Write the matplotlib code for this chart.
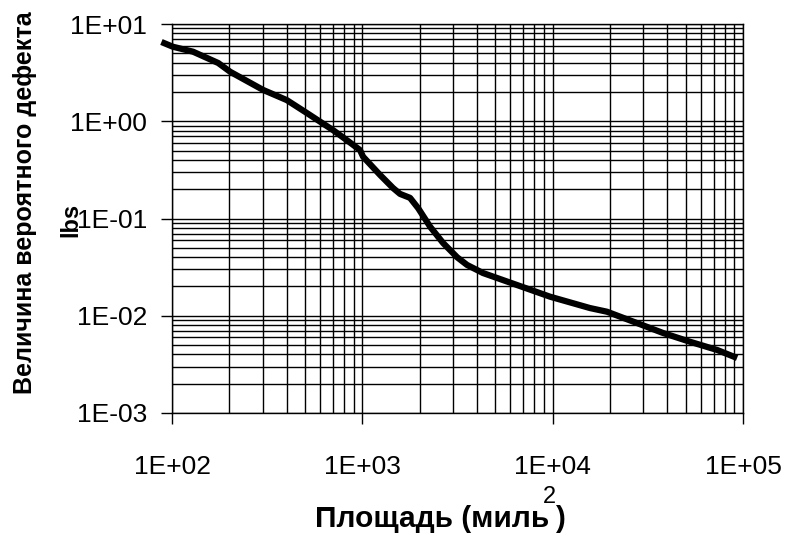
import matplotlib
matplotlib.use('Agg')
import matplotlib.pyplot as plt
from matplotlib.ticker import LogLocator, FuncFormatter, NullFormatter

plt.rcParams['font.family'] = ['Liberation Sans', 'DejaVu Sans']

# площадь (миль^2) и величина вероятного дефекта (lbs)
area = [88, 101, 129, 175, 202, 301, 401, 500, 600, 702, 828, 972, 1009, 1240,
        1449, 1578, 1781, 1963, 2270, 2656, 3145, 3550, 4305, 6497, 9690,
        15700, 19300, 27800, 38000, 52700, 73100, 93100]
defect = [6.53, 5.84, 5.19, 3.97, 3.23, 2.10, 1.65, 1.25, 0.99, 0.81, 0.64,
          0.506, 0.432, 0.28, 0.206, 0.179, 0.163, 0.128, 0.0824, 0.056,
          0.040, 0.0333, 0.0275, 0.0207, 0.0157, 0.0120, 0.0110, 0.0084,
          0.00665, 0.0054, 0.00445, 0.00368]

xlabel = 'Площадь (миль'
xlabel_sup = '2'
ylabel = 'Величина вероятного дефекта'
unit = 'lbs'

W, H = 789, 537
fig = plt.figure(figsize=(W/100, H/100), dpi=100)
ax = fig.add_axes([172/W, 1-413/H, (743-172)/W, (413-24)/H])

ax.plot(area, defect, color='black', lw=4.5, clip_on=False, zorder=5,
        solid_capstyle='butt', solid_joinstyle='round')

ax.set_xscale('log')
ax.set_yscale('log')
ax.set_xlim(1e2, 1e5)
ax.set_ylim(1e-3, 1e1)

fmt = FuncFormatter(lambda v, p: f'{v:.0E}')
for a in (ax.xaxis, ax.yaxis):
    a.set_major_locator(LogLocator(base=10, numticks=10))
    a.set_minor_locator(LogLocator(base=10, subs=range(2, 10), numticks=20))
    a.set_major_formatter(fmt)
    a.set_minor_formatter(NullFormatter())

ax.grid(True, which='both', color='black', lw=1.0)
ax.set_axisbelow(True)
ax.tick_params(which='major', length=8, width=1.0, color='black',
               labelsize=19, direction='out')
ax.tick_params(axis='x', which='major', pad=22)
ax.tick_params(axis='y', which='major', pad=10)
ax.tick_params(which='minor', length=0)
for s in ax.spines.values():
    s.set_color('black')
    s.set_linewidth(1.0)

# подпись оси X с надстрочной двойкой
r = fig.canvas.get_renderer()
t1 = fig.text(315/W, 1-527/H, xlabel, ha='left', va='baseline',
              fontsize=21.5, fontweight='bold')
bb = t1.get_window_extent(r)
t2 = fig.text((bb.x1 - 6)/W, 1-503/H, xlabel_sup, ha='left', va='baseline',
              fontsize=17)
bb2 = t2.get_window_extent(r)
fig.text((bb2.x1 - 1)/W, 1-527/H, ')', ha='left', va='baseline',
         fontsize=21.5, fontweight='bold')

fig.text(25/W, 1-203/H, ylabel, ha='center', va='center',
         rotation=90, fontsize=18, fontweight='bold')
fig.text(71/W, 1-220/H, unit, ha='center', va='center',
         rotation=90, fontsize=17, fontweight='bold', zorder=10)

fig.savefig('out.png', dpi=100)
